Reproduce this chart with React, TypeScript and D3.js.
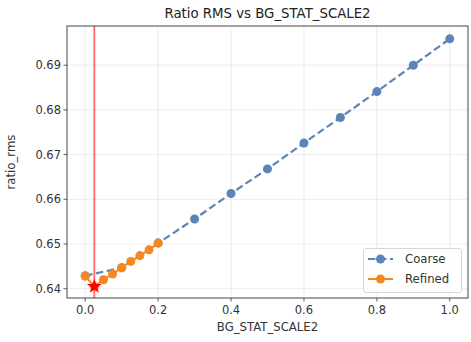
import React from "react";
import * as d3 from "d3";

const coarseX = [0.0, 0.1, 0.2, 0.3, 0.4, 0.5, 0.6, 0.7, 0.8, 0.9, 1.0];
const coarseY = [0.6429, 0.6447, 0.6502, 0.6556, 0.6613, 0.6668, 0.6726, 0.6783, 0.6841, 0.69, 0.6959];
const refinedX = [0.0, 0.025, 0.05, 0.075, 0.1, 0.125, 0.15, 0.175, 0.2];
const refinedY = [0.6428, 0.6405, 0.642, 0.6433, 0.6447, 0.6461, 0.6474, 0.6487, 0.6502];
const bestX = 0.025;
const bestY = 0.6405;
const xTicks = [0.0, 0.2, 0.4, 0.6, 0.8, 1.0];
const yTicks = [0.64, 0.65, 0.66, 0.67, 0.68, 0.69];

const W = 471, H = 342;
const L = 67, R = 468, T = 26, B = 298;
const FONT = "DejaVu Sans, sans-serif";
const BLUE = "#5b84b9";
const ORANGE = "#f5871f";

export default function App() {
  const x = d3.scaleLinear().domain([-0.05, 1.05]).range([L, R]);
  const y = d3.scaleLinear().domain([0.63792, 0.69877]).range([B, T]);
  const coarsePts: [number, number][] = coarseX.map((v, i) => [x(v), y(coarseY[i])]);
  const refinedPts: [number, number][] = refinedX.map((v, i) => [x(v), y(refinedY[i])]);
  const lg = d3.line();
  const star = d3.symbol().type(d3.symbolStar).size(70)();

  return (
    <svg width={W} height={H} style={{ position: "absolute", left: 0, top: 0, background: "#fff" }}>
      <rect x={0} y={0} width={W} height={H} fill="#fff" />
      {xTicks.map((t) => (
        <line key={"gx" + t} x1={x(t)} x2={x(t)} y1={T} y2={B} stroke="#b0b0b0" strokeOpacity={0.3} strokeWidth={0.8} />
      ))}
      {yTicks.map((t) => (
        <line key={"gy" + t} x1={L} x2={R} y1={y(t)} y2={y(t)} stroke="#b0b0b0" strokeOpacity={0.3} strokeWidth={0.8} />
      ))}
      <line x1={x(bestX)} x2={x(bestX)} y1={T} y2={B} stroke="#ff2a2a" strokeOpacity={0.7} strokeWidth={1.8} />
      <path d={lg(coarsePts) || ""} fill="none" stroke={BLUE} strokeWidth={2.2} strokeDasharray="7.4,3.6" />
      {coarsePts.map((p, i) => (
        <circle key={"c" + i} cx={p[0]} cy={p[1]} r={4.5} fill={BLUE} />
      ))}
      <path d={lg(refinedPts) || ""} fill="none" stroke={ORANGE} strokeWidth={2} />
      {refinedPts.map((p, i) => (
        <circle key={"r" + i} cx={p[0]} cy={p[1]} r={4.5} fill={ORANGE} />
      ))}
      <path d={star || ""} transform={`translate(${x(bestX)},${y(bestY)})`} fill="#ff0000" />
      <rect x={L} y={T} width={R - L} height={B - T} fill="none" stroke="#333" strokeWidth={0.9} />
      {xTicks.map((t) => (
        <g key={"xt" + t}>
          <line x1={x(t)} x2={x(t)} y1={B} y2={B + 3.5} stroke="#333" strokeWidth={0.8} />
          <text x={x(t)} y={B + 16} textAnchor="middle" fontFamily={FONT} fontSize={11.5} fill="#333">
            {t.toFixed(1)}
          </text>
        </g>
      ))}
      {yTicks.map((t) => (
        <g key={"yt" + t}>
          <line x1={L - 3.5} x2={L} y1={y(t)} y2={y(t)} stroke="#333" strokeWidth={0.8} />
          <text x={L - 6} y={y(t) + 4} textAnchor="end" fontFamily={FONT} fontSize={11.5} fill="#333">
            {t.toFixed(2)}
          </text>
        </g>
      ))}
      <text x={(L + R) / 2} y={331} textAnchor="middle" fontFamily={FONT} fontSize={11.7} fill="#333">
        BG_STAT_SCALE2
      </text>
      <text transform={`translate(15,${(T + B) / 2}) rotate(-90)`} textAnchor="middle" fontFamily={FONT} fontSize={11.7} fill="#333">
        ratio_rms
      </text>
      <text x={(L + R) / 2} y={18} textAnchor="middle" fontFamily={FONT} fontSize={13.3} fill="#222">
        Ratio RMS vs BG_STAT_SCALE2
      </text>
      <rect x={363.5} y={248.5} width={98} height={44} rx={2.5} fill="#fff" fillOpacity={0.8} stroke="#ccc" strokeWidth={0.8} />
      <line x1={368} x2={393} y1={259} y2={259} stroke={BLUE} strokeWidth={2} strokeDasharray="7.4,3.6" />
      <circle cx={380.5} cy={259} r={4.5} fill={BLUE} />
      <text x={405} y={263} fontFamily={FONT} fontSize={11.7} fill="#333">Coarse</text>
      <line x1={368} x2={393} y1={279} y2={279} stroke={ORANGE} strokeWidth={2} />
      <circle cx={380.5} cy={279} r={4.5} fill={ORANGE} />
      <text x={405} y={283} fontFamily={FONT} fontSize={11.7} fill="#333">Refined</text>
    </svg>
  );
}
